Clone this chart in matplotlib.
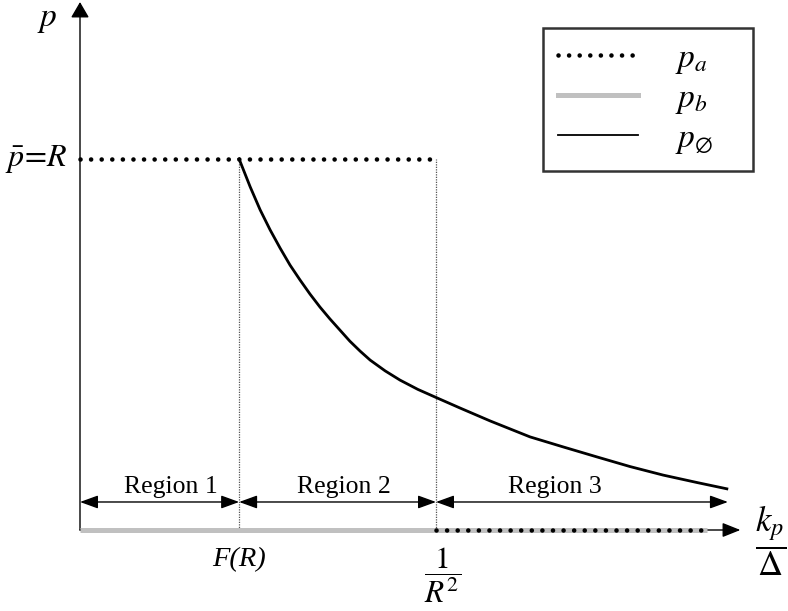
import numpy as np
import matplotlib.pyplot as plt
from matplotlib.lines import Line2D

plt.rcParams['font.family'] = ['Liberation Serif', 'DejaVu Serif']
plt.rcParams['mathtext.fontset'] = 'stix'

#%% Data (k_p/Delta on x, p on y; 1/R^2 = 1, p_bar = R = 1)
k_FR = 0.447       # F(R)
k_R2 = 1.0         # 1/R^2
k_end = 1.76       # end of p_a / p_b
k_axis = 1.855     # tip of the k axis
p_bar = 1.0
p_top = 1.423

# p_empty curve
k_curve = [0.447, 0.478, 0.506, 0.534, 0.562, 0.590, 0.618, 0.646, 0.674, 0.702,
           0.730, 0.758, 0.787, 0.815, 0.857, 0.899, 0.949, 1.003, 1.067, 1.152,
           1.264, 1.357, 1.452, 1.545, 1.638, 1.733, 1.817]
p_curve = [1.000, 0.925, 0.863, 0.809, 0.760, 0.714, 0.674, 0.636, 0.601, 0.569,
           0.539, 0.509, 0.482, 0.458, 0.429, 0.404, 0.379, 0.356, 0.329, 0.294,
           0.251, 0.224, 0.197, 0.171, 0.148, 0.128, 0.111]

# p_a pieces
k_pa_top = [0.0, k_R2]
k_pa_bot = [k_R2, k_end]
# p_b
k_pb = [0.0, k_end]

regions = ['Region 1', 'Region 2', 'Region 3']
region_edges = [0.0, k_FR, k_R2, 1.82]
region_label_k = [0.256, 0.742, 1.334]
region_y = 0.0755

#%% Plot
fig = plt.figure(figsize=(7.88, 6.11), dpi=100)
ax = fig.add_axes([0, 0, 1, 1])
ax.set_xlim(-80 / 356, 708 / 356)
ax.set_ylim(-81 / 371, 530 / 371)
ax.axis('off')

dots = dict(color='black', lw=3.3, linestyle=(0, (0.01, 2.3)), dash_capstyle='round')

# axes arrows
ax.annotate('', xy=(k_axis, 0), xytext=(0, 0), zorder=1,
            arrowprops=dict(arrowstyle='-|>,head_length=0.55,head_width=0.22', color='black',
                            lw=1.0, shrinkA=0, shrinkB=0, mutation_scale=20))
ax.annotate('', xy=(0, p_top), xytext=(0, 0), zorder=1,
            arrowprops=dict(arrowstyle='-|>,head_length=0.48,head_width=0.28', color='black',
                            lw=1.0, shrinkA=0, shrinkB=0, mutation_scale=20))

# guide lines
for k in [k_FR, k_R2]:
    ax.plot([k, k], [0, p_bar], color='#555555', lw=0.9, linestyle=(0, (1, 1)), zorder=1)

# series
ax.plot(k_pb, [0, 0], color='#c0c0c0', lw=3.6, solid_capstyle='butt', zorder=2)
ax.plot(k_pa_top, [p_bar, p_bar], zorder=3, **dots)
ax.plot(k_pa_bot, [0, 0], zorder=3, **dots)
ax.plot(k_curve, p_curve, color='black', lw=2.0, zorder=4)

# regions
for i, name in enumerate(regions):
    a, b = region_edges[i], region_edges[i + 1]
    ax.annotate('', xy=(b, region_y), xytext=(a, region_y),
                arrowprops=dict(arrowstyle='<|-|>,head_length=0.55,head_width=0.2', color='black',
                                lw=1.0, shrinkA=0, shrinkB=0, mutation_scale=20))
    ax.text(region_label_k[i], region_y + 0.012, name, ha='center', va='bottom', fontsize=18.5)

# labels
ax.text(-0.093, 1.375, r'$p$', fontsize=24, ha='center', va='center')
ax.text(-0.035, p_bar, r'$\bar{p}\!=\!R$', fontsize=23, ha='right', va='center')
ax.text(k_FR, -0.08, 'F(R)', fontsize=20.5, style='italic', ha='center', va='center')
ax.text(1.02, -0.12, r'$\dfrac{1}{R^{2}}$', fontsize=22.5, ha='center', va='center')
ax.text(1.94, -0.028, r'$\dfrac{k_p}{\Delta}$', fontsize=25, ha='center', va='center')

# legend
handles = [Line2D([], [], **dots),
           Line2D([], [], color='#c0c0c0', lw=3.6),
           Line2D([], [], color='black', lw=1.3)]
labels = [r'$p_a$', r'$p_b$', r'$p_{\varnothing}$']
leg = ax.legend(handles, labels, loc='upper left', mode='expand',
                bbox_to_anchor=(543 / 788, 1 - 28 / 611, 210 / 788, 0),
                fontsize=24, frameon=True, fancybox=False, handlelength=2.4,
                handletextpad=1.1, labelspacing=0.23, borderpad=0.45, borderaxespad=0)
leg.get_frame().set_edgecolor('black')
leg.get_frame().set_linewidth(1.8)

plt.savefig('out.png', dpi=100)
